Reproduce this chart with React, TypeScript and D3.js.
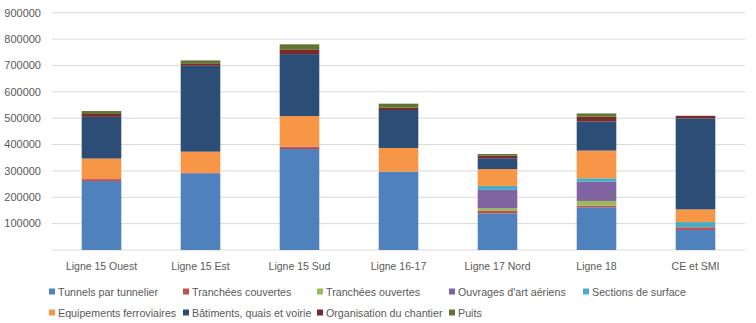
import React from "react";
import * as d3 from "d3";

const categories = ["Ligne 15 Ouest", "Ligne 15 Est", "Ligne 15 Sud", "Ligne 16-17", "Ligne 17 Nord", "Ligne 18", "CE et SMI"];
const seriesNames = [
  "Tunnels par tunnelier",
  "Tranchées couvertes",
  "Tranchées ouvertes",
  "Ouvrages d'art aériens",
  "Sections de surface",
  "Equipements ferroviaires",
  "Bâtiments, quais et voirie",
  "Organisation du chantier",
  "Puits",
];
const colors = ["#4F81BD", "#C0504D", "#9BBB59", "#8064A2", "#4BACC6", "#F79646", "#2C4D75", "#772C2A", "#5F7530"];

const tunnels = [262000, 291000, 383000, 297000, 139000, 162000, 76000];
const trancheesCouvertes = [7000, 1000, 9000, 1000, 9000, 6000, 10000];
const trancheesOuvertes = [0, 0, 0, 0, 10000, 18000, 0];
const ouvrages = [0, 0, 0, 0, 70000, 73000, 0];
const sections = [0, 0, 0, 0, 15000, 13000, 20000];
const equipements = [78000, 81000, 116000, 89000, 64000, 105000, 48000];
const batiments = [158000, 326000, 235000, 144000, 41000, 110000, 345000];
const organisation = [11000, 9000, 18000, 9000, 10000, 19000, 10000];
const puits = [11000, 11000, 19000, 15000, 6000, 12000, 0];
const yTicks = [100000, 200000, 300000, 400000, 500000, 600000, 700000, 800000, 900000];

const seriesValues = [tunnels, trancheesCouvertes, trancheesOuvertes, ouvrages, sections, equipements, batiments, organisation, puits];

export default function App() {
  const W = 756, H = 323;
  const left = 52, right = 745, top = 12.7, bottom = 250;
  const rows = categories.map((c, i) => {
    const r: any = { cat: c };
    seriesNames.forEach((s, j) => (r[s] = seriesValues[j][i]));
    return r;
  });
  const stack = d3.stack<any>().keys(seriesNames)(rows);
  const x = d3.scaleBand().domain(categories).range([left, right]).paddingInner(0.6).paddingOuter(0.3);
  const y = d3.scaleLinear().domain([0, 900000]).range([bottom, top]);
  const font = "'Liberation Sans', Arial, sans-serif";
  const textColor = "#595959";
  const legendCols = [49, 183, 317, 449, 583];
  return (
    <svg width={W} height={H} style={{ position: "absolute", left: 0, top: 0, background: "#fff" }} fontFamily={font}>
      <rect width={W} height={H} fill="#fff" />
      {yTicks.map((t) => (
        <g key={t}>
          <line x1={left} x2={right} y1={y(t)} y2={y(t)} stroke="#D9D9D9" strokeWidth={1} />
          <text x={41} y={y(t)} dy="0.35em" textAnchor="end" fontSize={11} fill={textColor}>{t}</text>
        </g>
      ))}
      <line x1={left} x2={right} y1={y(0)} y2={y(0)} stroke="#D9D9D9" strokeWidth={1} />
      {stack.map((s, j) => (
        <g key={s.key} fill={colors[j]}>
          {s.map((d, i) => (
            <rect key={i} x={x(categories[i])} width={x.bandwidth()} y={y(d[1])} height={Math.max(0, y(d[0]) - y(d[1]))} />
          ))}
        </g>
      ))}
      {categories.map((c) => (
        <text key={c} x={(x(c) as number) + x.bandwidth() / 2} y={270} textAnchor="middle" fontSize={10.5} fill={textColor}>{c}</text>
      ))}
      {seriesNames.map((s, j) => {
        const row = j < 5 ? 0 : 1;
        const col = j < 5 ? j : j - 5;
        const lx = legendCols[col];
        const ly = row === 0 ? 292 : 313;
        return (
          <g key={s}>
            <rect x={lx} y={ly - 3.5} width={6} height={6} fill={colors[j]} />
            <text x={lx + 9} y={ly} dy="0.35em" fontSize={10.7} fill={textColor}>{s}</text>
          </g>
        );
      })}
    </svg>
  );
}
